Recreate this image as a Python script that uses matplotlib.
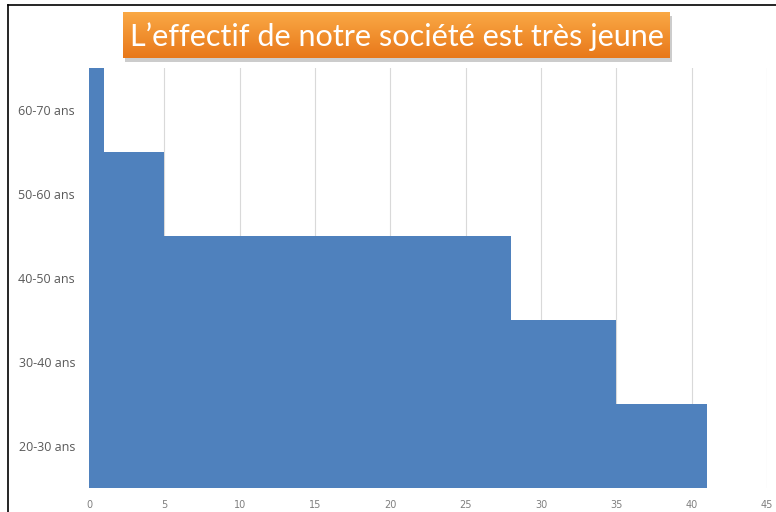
import matplotlib.pyplot as plt
from matplotlib.patches import Rectangle
from matplotlib.lines import Line2D
import numpy as np

age_groups = ["20-30 ans", "30-40 ans", "40-50 ans", "50-60 ans", "60-70 ans"]
headcount = [41, 35, 28, 5, 1]
x_ticks = [0, 5, 10, 15, 20, 25, 30, 35, 40, 45]
title = "L\u2019effectif de notre société est très jeune"

W, H = 776, 512
fig = plt.figure(figsize=(W / 100, H / 100), dpi=100)
fig.patch.set_facecolor("white")

# plot area in pixel coords
left, right, top, bottom = 89, 767, 68, 488
ax = fig.add_axes([left / W, 1 - bottom / H, (right - left) / W, (bottom - top) / H])

y = np.arange(len(age_groups))
ax.barh(y, headcount, height=1.0, color="#4F81BD", linewidth=0, zorder=3)

ax.set_xlim(0, 45)
ax.set_ylim(-0.5, len(age_groups) - 0.5)
ax.set_xticks(x_ticks)
ax.set_xticklabels([str(t) for t in x_ticks], fontsize=7, color="#7f7f7f",
                   family="Liberation Sans Narrow")
ax.set_yticks(y)
ax.set_yticklabels(age_groups, fontsize=9, color="#595959", family="Open Sans")
ax.tick_params(axis="both", length=0)
ax.tick_params(axis="x", pad=9)
ax.tick_params(axis="y", pad=10)
ax.grid(axis="x", color="#d9d9d9", linewidth=0.8, zorder=0)
for s in ax.spines.values():
    s.set_visible(False)

# thin black frame on top and left edge
fig.add_artist(Line2D([8 / W, 1], [1 - 5 / H, 1 - 5 / H], color="black", lw=1.2))
fig.add_artist(Line2D([8 / W, 8 / W], [0, 1 - 5 / H], color="black", lw=1.2))

# title box with gradient and shadow
bx0, bx1, by0, by1 = 123, 670, 12, 58
shadow = Rectangle((bx0 / W + 0.003, 1 - (by1 + 4) / H), (bx1 - bx0) / W, (by1 - by0) / H,
                   transform=fig.transFigure, facecolor="#000000", alpha=0.2, zorder=1)
fig.add_artist(shadow)
grad = np.linspace(0, 1, 64).reshape(-1, 1)
gax = fig.add_axes([bx0 / W, 1 - by1 / H, (bx1 - bx0) / W, (by1 - by0) / H], zorder=2)
c_top = np.array([0.98, 0.66, 0.27])
c_bot = np.array([0.91, 0.47, 0.10])
img = c_top[None, None, :] * (1 - grad[..., None]) + c_bot[None, None, :] * grad[..., None]
gax.imshow(img, aspect="auto", extent=[0, 1, 0, 1])
gax.set_axis_off()
t = gax.text(0.5, 0.47, title, ha="center", va="center", fontsize=24, color="white",
             family="Lato", transform=gax.transAxes)

# shrink the title until it fits the box width
renderer = fig.canvas.get_renderer()
target = 535
w = t.get_window_extent(renderer).width
t.set_fontsize(24 * target / w)

fig.savefig("out.png", dpi=100)
